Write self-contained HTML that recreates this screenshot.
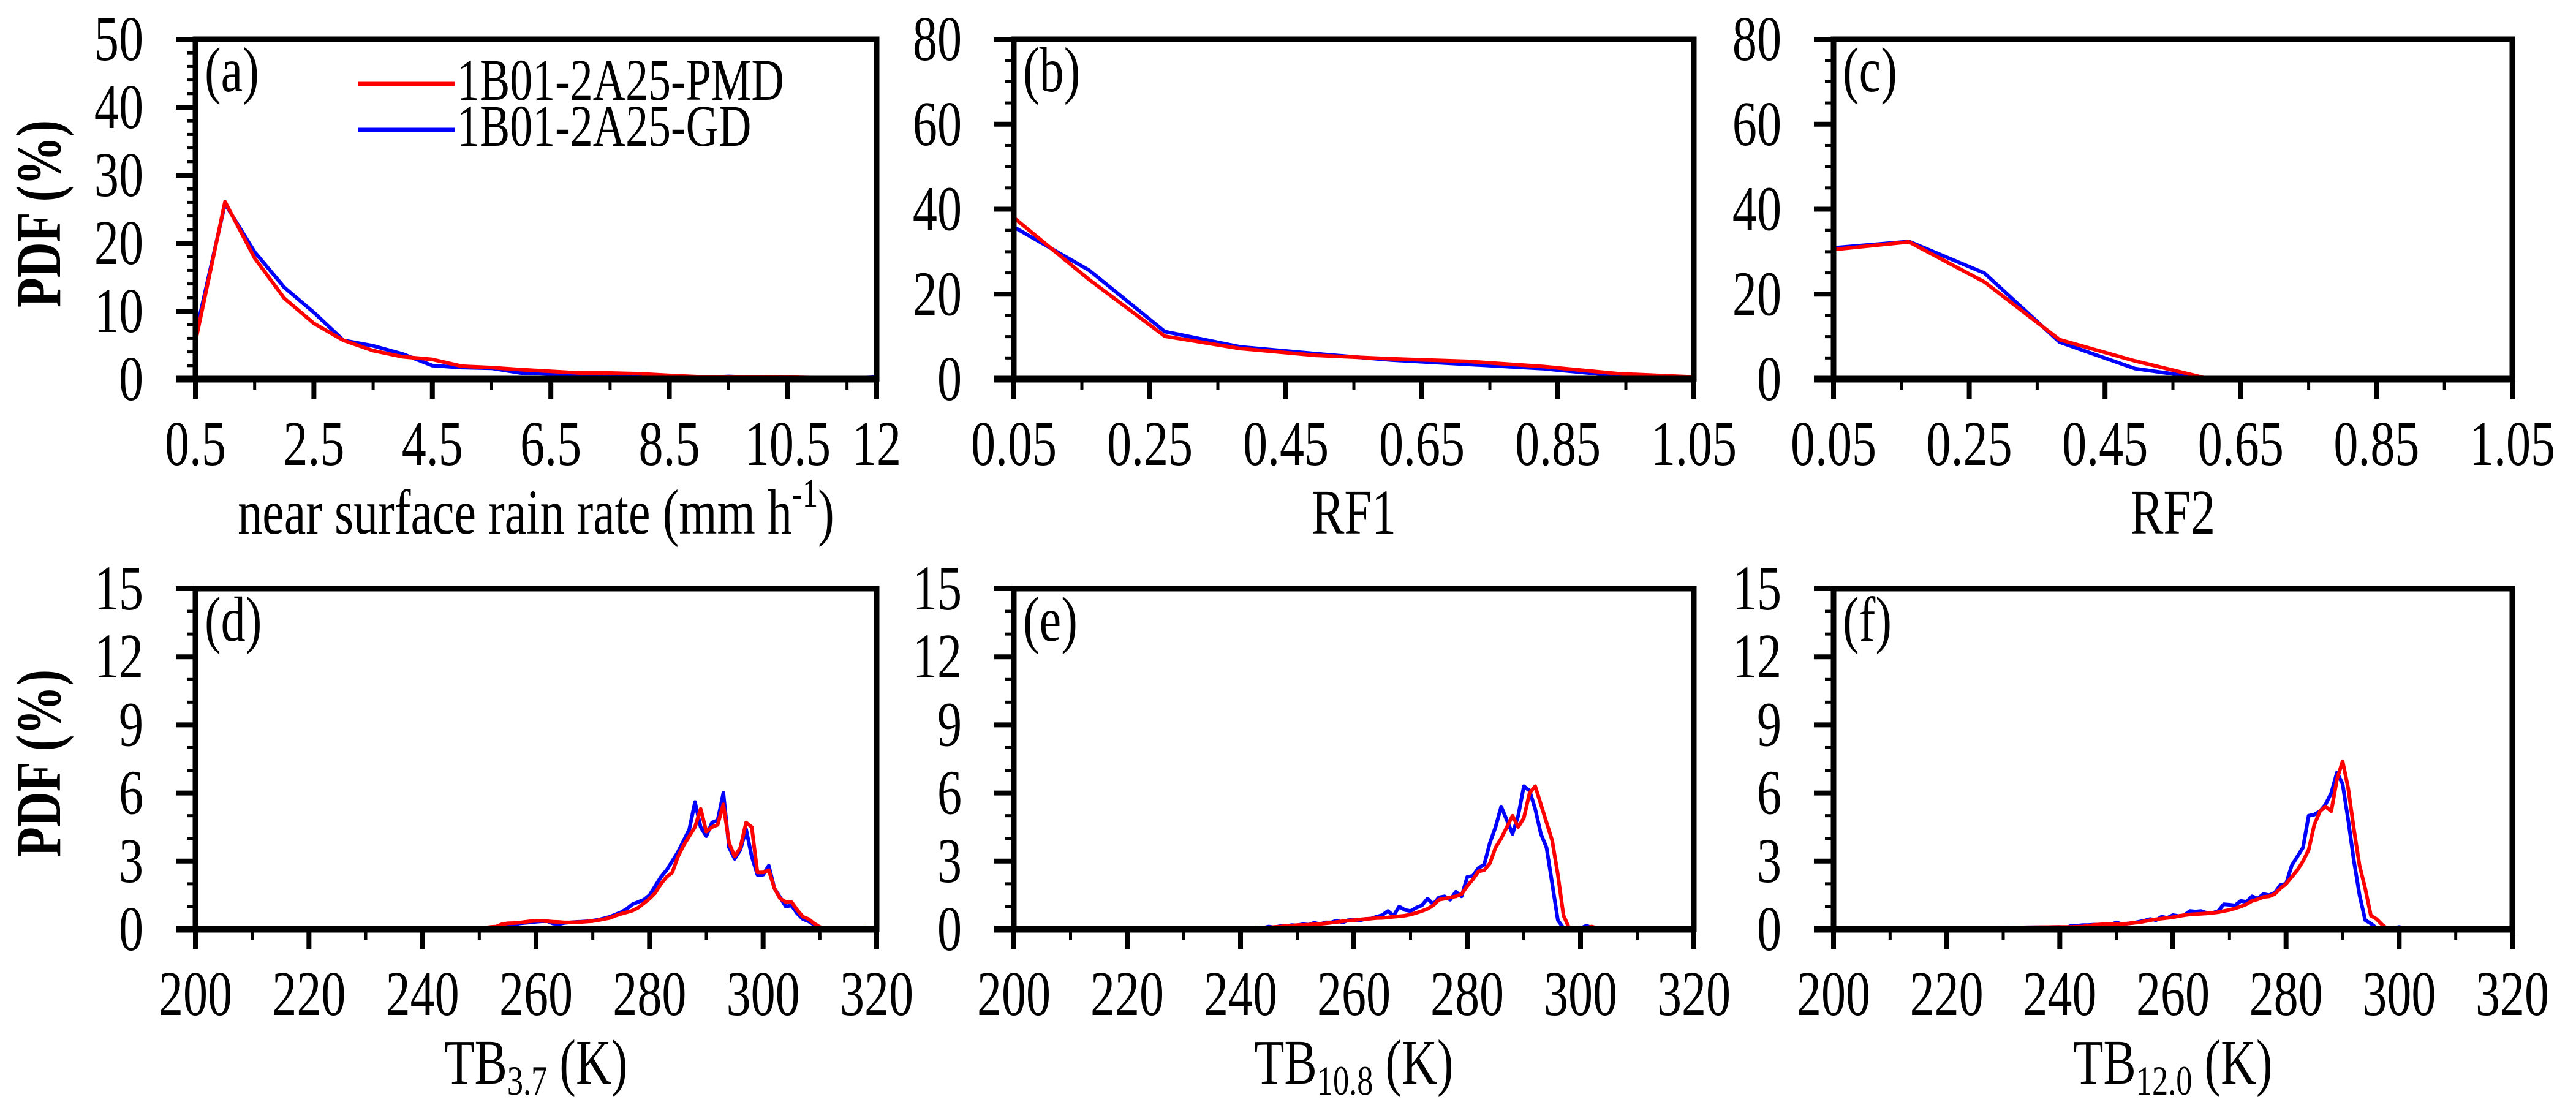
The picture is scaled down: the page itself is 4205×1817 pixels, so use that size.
<!DOCTYPE html>
<html><head><meta charset="utf-8"><title>PDF panels</title>
<style>
html,body{margin:0;padding:0;background:#fff;}
svg{display:block;font-family:"Liberation Serif","Times New Roman",serif;}
</style></head>
<body>
<svg id="fig" width="4205" height="1817" viewBox="0 0 4205 1817" xmlns="http://www.w3.org/2000/svg"></svg>
<script>
// ---- Panel (a): near surface rain rate ----
const aX = [0.5,1,1.5,2,2.5,3,3.5,4,4.5,5,5.5,6,6.5,7,7.5,8,8.5,9,9.5,10,10.5,11,11.5,12];
const aRed = [5.5,26.1,17.8,11.9,8.2,5.7,4.2,3.3,2.9,1.9,1.7,1.4,1.15,0.9,0.9,0.8,0.55,0.35,0.35,0.35,0.3,0.2,0.1,0.05];
const aBlue = [6.5,25.8,18.7,13.5,9.8,5.7,4.9,3.7,2.0,1.7,1.6,0.9,0.75,0.45,0.3,0.3,0.3,0.2,0.4,0.25,0.2,0.1,0.1,0.3];
const aXTicks = ["0.5","2.5","4.5","6.5","8.5","10.5","12"];
const aYTicks = ["0","10","20","30","40","50"];
// ---- Panel (b): RF1 ----
const bX = [0.05,0.161,0.272,0.383,0.494,0.605,0.716,0.827,0.938,1.05];
const bRed = [38,23.4,10.1,7.2,5.6,4.8,4.2,3.0,1.3,0.5];
const bBlue = [35.8,25.6,11.2,7.6,6.0,4.5,3.5,2.5,0.8,0.2];
const bXTicks = ["0.05","0.25","0.45","0.65","0.85","1.05"];
const bYTicks = ["0","20","40","60","80"];
// ---- Panel (c): RF2 ----
const cX = [0.05,0.161,0.272,0.383,0.494,0.605,0.716,0.827,0.938,1.05];
const cRed = [30.5,32.3,22.9,9.3,4.3,0,0,0,0,0];
const cBlue = [30.9,32.4,25.0,8.7,2.5,0,0,0,0,0];
const cXTicks = ["0.05","0.25","0.45","0.65","0.85","1.05"];
const cYTicks = ["0","20","40","60","80"];
// ---- Panel (d): TB3.7 ----
const dX = [248,249,250,251,252,253,254,255,256,257,258,259,260,261,262,263,264,265,266,267,268,269,270,271,272,273,274,275,276,277,278,279,280,281,282,283,284,285,286,287,288,289,290,291,292,293,294,295,296,297,298,299,300,301,302,303,304,305,306,307,308,309,310,311,312,313,314,315,316,317,318,319,320];
const dRed = [0,0.02,0.05,0.07,0.1,0.12,0.22,0.26,0.27,0.29,0.32,0.35,0.37,0.37,0.35,0.33,0.32,0.3,0.3,0.31,0.32,0.34,0.36,0.4,0.45,0.5,0.6,0.68,0.75,0.82,0.95,1.15,1.35,1.6,2.0,2.3,2.5,3.2,3.7,4.1,4.5,5.3,4.3,4.5,4.6,5.5,3.8,3.2,3.6,4.7,4.5,2.5,2.5,2.6,1.8,1.35,1.2,1.2,0.85,0.55,0.45,0.25,0.1,0.04,0.02,0.02,0.02,0.03,0.02,0.02,0.02,0.01,0];
const dBlue = [0,0.02,0.03,0.04,0.05,0.05,0.12,0.2,0.15,0.25,0.28,0.3,0.33,0.35,0.35,0.25,0.22,0.28,0.3,0.32,0.33,0.35,0.38,0.42,0.48,0.55,0.65,0.75,0.9,1.1,1.2,1.3,1.5,1.9,2.3,2.6,3.0,3.4,3.9,4.4,5.6,4.5,4.1,4.7,4.8,6.0,3.6,3.1,3.5,4.4,3.2,2.4,2.4,2.8,1.8,1.4,1.0,1.05,0.7,0.45,0.35,0.2,0.05,0.02,0.02,0.02,0.02,0.02,0.02,0.03,0.08,0.02,0];
const dXTicks = ["200","220","240","260","280","300","320"];
const dYTicks = ["0","3","6","9","12","15"];
// ---- Panel (e): TB10.8 ----
const eX = [200,210,220,230,240,241,242,243,244,245,246,247,248,249,250,251,252,253,254,255,256,257,258,259,260,261,262,263,264,265,266,267,268,269,270,271,272,273,274,275,276,277,278,279,280,281,282,283,284,285,286,287,288,289,290,291,292,293,294,295,296,297,298,299,300,301,302,303,304,305,306];
const eRed = [0.01,0.02,0.02,0.03,0.04,0.05,0.05,0.06,0.07,0.08,0.1,0.12,0.14,0.16,0.18,0.19,0.2,0.22,0.24,0.26,0.29,0.32,0.35,0.38,0.4,0.43,0.45,0.47,0.49,0.5,0.52,0.55,0.57,0.6,0.65,0.72,0.8,0.9,1.05,1.3,1.35,1.4,1.45,1.55,1.9,2.2,2.55,2.6,2.9,3.6,4.0,4.5,5.0,4.5,4.9,6.0,6.3,5.5,4.7,3.9,2.4,0.6,0.05,0.03,0.04,0.06,0.12,0.05,0.02,0,0];
const eBlue = [0.01,0.02,0.02,0.03,0.03,0.06,0.04,0.08,0.06,0.12,0.08,0.14,0.13,0.18,0.17,0.22,0.2,0.28,0.22,0.3,0.3,0.38,0.3,0.4,0.42,0.38,0.45,0.47,0.55,0.62,0.8,0.6,1.0,0.85,0.8,0.95,1.05,1.35,1.1,1.4,1.45,1.3,1.65,1.45,2.3,2.35,2.7,2.85,3.8,4.5,5.4,4.8,4.2,5.0,6.3,6.1,5.3,4.2,3.6,2.0,0.4,0.05,0.03,0.04,0.05,0.15,0.08,0.05,0.02,0,0];
const eXTicks = ["200","220","240","260","280","300","320"];
const eYTicks = ["0","3","6","9","12","15"];
// ---- Panel (f): TB12.0 ----
const fX = [200,210,220,230,240,241,242,243,244,245,246,247,248,249,250,251,252,253,254,255,256,257,258,259,260,261,262,263,264,265,266,267,268,269,270,271,272,273,274,275,276,277,278,279,280,281,282,283,284,285,286,287,288,289,290,291,292,293,294,295,296,297,298,299,300,301,302,303,304,305];
const fRed = [0.02,0.04,0.05,0.07,0.1,0.1,0.1,0.11,0.12,0.15,0.19,0.21,0.22,0.23,0.23,0.24,0.25,0.28,0.3,0.35,0.4,0.44,0.47,0.5,0.53,0.58,0.62,0.65,0.67,0.68,0.7,0.72,0.75,0.8,0.85,0.92,1.0,1.1,1.25,1.32,1.42,1.45,1.55,1.8,2.0,2.3,2.6,3.0,3.5,4.6,5.2,5.4,5.2,6.6,7.4,6.2,4.4,2.8,1.8,0.6,0.45,0.2,0.0,0.03,0.08,0.06,0.05,0.02,0,0];
const fBlue = [0.02,0.04,0.05,0.07,0.1,0.05,0.15,0.15,0.18,0.18,0.2,0.2,0.22,0.2,0.3,0.22,0.25,0.28,0.33,0.38,0.45,0.4,0.55,0.5,0.62,0.58,0.62,0.8,0.78,0.8,0.72,0.72,0.8,1.1,1.08,1.05,1.25,1.2,1.45,1.35,1.55,1.5,1.6,1.95,2.0,2.8,3.2,3.6,5.0,5.05,5.2,5.5,6.0,6.9,6.4,4.8,3.0,1.5,0.4,0.25,0.05,0.0,0.0,0.05,0.1,0.06,0.05,0.02,0,0];
const fXTicks = ["200","220","240","260","280","300","320"];
const fYTicks = ["0","3","6","9","12","15"];

const NS = "http://www.w3.org/2000/svg";
const svg = document.getElementById("fig");
const FS = 104, SX = 0.77;
function mk(tag, attrs, parent){
  const e = document.createElementNS(NS, tag);
  for (const k in attrs) e.setAttribute(k, attrs[k]);
  (parent||svg).appendChild(e);
  return e;
}
function txt(parent, x, y, anchor, size, str){
  const t = mk("text", {x:0, y:0, "text-anchor":anchor, "font-size":size,
    transform:"translate(" + x + "," + y + ") scale(" + SX + ",1)"}, parent);
  t.textContent = str;
  return t;
}

const TOP = {y0:64, y1:619};
const BOT = {y0:961, y1:1517};
const COLS = [{x0:319,x1:1431},{x0:1655,x1:2765},{x0:2993,x1:4101}];

function panel(o){
  const g = mk("g", {});
  
  
  const {x0,x1} = o.col, {y0,y1} = o.row;
  const sx = v => x0 + (v - o.xmin)/(o.xmax - o.xmin)*(x1 - x0);
  const sy = v => y1 - (v - o.ymin)/(o.ymax - o.ymin)*(y1 - y0);
  for (let v = o.ymin; v <= o.ymax + 1e-9; v += o.yminor){
    const major = Math.abs((v - o.ymin)/o.ymajor - Math.round((v - o.ymin)/o.ymajor)) < 1e-6;
    const t = mk("line", {x1:major? x0-32 : x0-14, x2:x0, y1:sy(v), y2:sy(v), stroke:"#000", "stroke-width": major?8:5}, g);
    
    
  }
  o.yTicks.forEach(lbl => {
    const v = parseFloat(lbl);
    const t = txt(g, x0-85, sy(v)+34, "end", FS, lbl);
    
    
  });
  o.xMajorVals.forEach(v => {
    const t = mk("line", {x1:sx(v), x2:sx(v), y1:y1, y2:y1+32, stroke:"#000", "stroke-width":8}, g);
    
    
  });
  o.xMinorVals.forEach(v => {
    const t = mk("line", {x1:sx(v), x2:sx(v), y1:y1, y2:y1+17, stroke:"#000", "stroke-width":5}, g);
    
    
  });
  o.xTicks.forEach(lbl => {
    const v = parseFloat(lbl);
    const t = txt(g, sx(v), y1+140, "middle", FS, lbl);
    
    
  });
  const clip = "clip-" + o.id;
  const cp = mk("clipPath", {id:clip}, g);
  mk("rect", {x:x0, y:y0, width:x1-x0, height:y1-y0}, cp);
  [["blue","#0000ff",o.blue],["red","#ff0000",o.red]].forEach(([nm,col,vals]) => {
    const pts = o.x.map((xv,i) => sx(xv).toFixed(1) + "," + sy(vals[i]).toFixed(1)).join(" ");
    const p = mk("polyline", {points:pts, fill:"none", stroke:col, "stroke-width":6, "stroke-linejoin":"round", "clip-path":"url(#"+clip+")"}, g);
    
    
  });
  const fr = mk("rect", {x:x0, y:y0, width:x1-x0, height:y1-y0, fill:"none", stroke:"#000", "stroke-width":9}, g);
  
  
  const ax = mk("line", {x1:x0-32, x2:x1, y1:y1, y2:y1, stroke:"#000", "stroke-width":11}, g);
  
  
  const pl = txt(g, x0+15, y0+85, "start", FS, "(" + o.id + ")");
  
  
}

const aXMajor = [0.5,2.5,4.5,6.5,8.5,10.5,12];
const aXMinor = [1.5,3.5,5.5,7.5,9.5,11.5];
const rfMajor = [0.05,0.25,0.45,0.65,0.85,1.05];
const rfMinor = [0.15,0.35,0.55,0.75,0.95];
const tbMajor = [200,220,240,260,280,300,320];
const tbMinor = [210,230,250,270,290,310];

panel({id:"a", col:COLS[0], row:TOP, xmin:0.5, xmax:12, ymin:0, ymax:50, ymajor:10, yminor:2, x:aX, red:aRed, blue:aBlue, xTicks:aXTicks, yTicks:aYTicks, xMajorVals:aXMajor, xMinorVals:aXMinor});
panel({id:"b", col:COLS[1], row:TOP, xmin:0.05, xmax:1.05, ymin:0, ymax:80, ymajor:20, yminor:5, x:bX, red:bRed, blue:bBlue, xTicks:bXTicks, yTicks:bYTicks, xMajorVals:rfMajor, xMinorVals:rfMinor});
panel({id:"c", col:COLS[2], row:TOP, xmin:0.05, xmax:1.05, ymin:0, ymax:80, ymajor:20, yminor:5, x:cX, red:cRed, blue:cBlue, xTicks:cXTicks, yTicks:cYTicks, xMajorVals:rfMajor, xMinorVals:rfMinor});
panel({id:"d", col:COLS[0], row:BOT, xmin:200, xmax:320, ymin:0, ymax:15, ymajor:3, yminor:1, x:dX, red:dRed, blue:dBlue, xTicks:dXTicks, yTicks:dYTicks, xMajorVals:tbMajor, xMinorVals:tbMinor});
panel({id:"e", col:COLS[1], row:BOT, xmin:200, xmax:320, ymin:0, ymax:15, ymajor:3, yminor:1, x:eX, red:eRed, blue:eBlue, xTicks:eXTicks, yTicks:eYTicks, xMajorVals:tbMajor, xMinorVals:tbMinor});
panel({id:"f", col:COLS[2], row:BOT, xmin:200, xmax:320, ymin:0, ymax:15, ymajor:3, yminor:1, x:fX, red:fRed, blue:fBlue, xTicks:fXTicks, yTicks:fYTicks, xMajorVals:tbMajor, xMinorVals:tbMinor});
</script>
<svg style="position:absolute;left:0;top:0" width="4205" height="1817" viewBox="0 0 4205 1817" xmlns="http://www.w3.org/2000/svg" font-family="Liberation Serif, Times New Roman, serif">
  <g>
    <line x1="584" y1="137" x2="742" y2="137" stroke="#ff0000" stroke-width="7"/>
    <text transform="translate(746,163) scale(0.77,1)" font-size="96">1B01-2A25-PMD</text>
    <line x1="584" y1="212" x2="742" y2="212" stroke="#0000ff" stroke-width="7"/>
    <text transform="translate(746,238) scale(0.77,1)" font-size="96">1B01-2A25-GD</text>
  </g>
  <text transform="translate(98,349) rotate(-90) scale(0.77,1)" text-anchor="middle" font-size="104" font-weight="bold">PDF (%)</text>
  <text transform="translate(98,1246) rotate(-90) scale(0.77,1)" text-anchor="middle" font-size="104" font-weight="bold">PDF (%)</text>
  <text transform="translate(875,871) scale(0.77,1)" text-anchor="middle" font-size="104">near surface rain rate (mm h<tspan font-size="66" dy="-44">-1</tspan><tspan dy="44">)</tspan></text>
  <text transform="translate(2210,871) scale(0.77,1)" text-anchor="middle" font-size="104">RF1</text>
  <text transform="translate(3547,871) scale(0.77,1)" text-anchor="middle" font-size="104">RF2</text>
  <text transform="translate(875,1769) scale(0.77,1)" text-anchor="middle" font-size="104">TB<tspan font-size="68" dy="18">3.7</tspan><tspan dy="-18"> (K)</tspan></text>
  <text transform="translate(2210,1769) scale(0.77,1)" text-anchor="middle" font-size="104">TB<tspan font-size="68" dy="18">10.8</tspan><tspan dy="-18"> (K)</tspan></text>
  <text transform="translate(3547,1769) scale(0.77,1)" text-anchor="middle" font-size="104">TB<tspan font-size="68" dy="18">12.0</tspan><tspan dy="-18"> (K)</tspan></text>
</svg>
</body></html>
